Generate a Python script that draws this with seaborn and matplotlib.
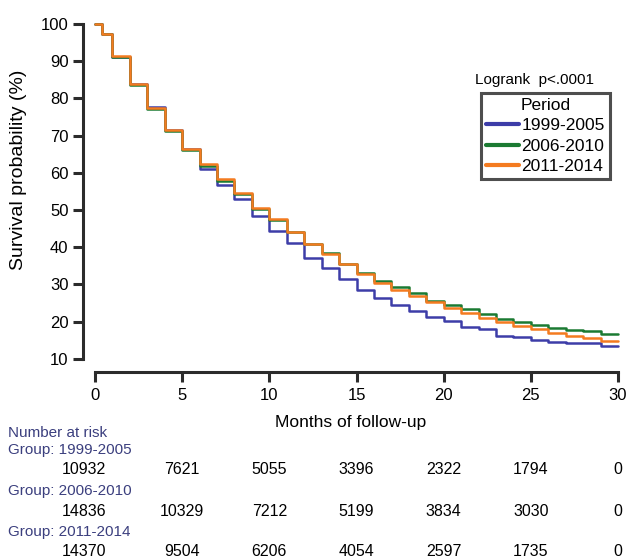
import pandas as pd
import seaborn as sns
import matplotlib.pyplot as plt
import matplotlib.transforms as mtransforms
from matplotlib.lines import Line2D

# survival curves (monthly steps)
meses = [0, 0.4] + list(range(1, 31))
surv_1999 = [100, 97.2, 91.2, 83.9, 77.8, 71.5, 66.3, 61.1, 56.6, 52.9, 48.4, 44.4, 41.2, 37.0, 34.3, 31.4,
             28.5, 26.4, 24.5, 22.8, 21.3, 20.2, 18.6, 17.9, 16.1, 15.8, 15.1, 14.6, 14.3, 14.2, 13.4, 13.4]
surv_2006 = [100, 97.2, 91.0, 83.6, 77.2, 71.3, 66.2, 61.8, 57.9, 54.3, 50.4, 47.3, 44.0, 40.8, 38.4, 35.4,
             33.0, 31.0, 29.2, 27.6, 25.6, 24.5, 23.3, 22.0, 20.6, 20.0, 19.1, 18.2, 17.7, 17.5, 16.7, 16.7]
surv_2011 = [100, 97.2, 91.3, 84.0, 77.4, 71.5, 66.4, 62.5, 58.3, 54.5, 50.6, 47.5, 44.2, 40.9, 38.3, 35.4,
             32.7, 30.5, 28.5, 26.9, 25.4, 23.6, 22.2, 20.9, 20.0, 18.8, 17.9, 17.0, 16.1, 15.5, 14.9, 14.9]

periodos = ['1999-2005', '2006-2010', '2011-2014']
cores = ['#3d3da8', '#1b7a32', '#f47b20']

# number at risk table
tempos_risco = [0, 5, 10, 15, 20, 25, 30]
risco_1999 = [10932, 7621, 5055, 3396, 2322, 1794, 0]
risco_2006 = [14836, 10329, 7212, 5199, 3834, 3030, 0]
risco_2011 = [14370, 9504, 6206, 4054, 2597, 1735, 0]

dados = pd.concat([
    pd.DataFrame({'Months': meses, 'Survival': s, 'Period': p})
    for s, p in zip([surv_1999, surv_2006, surv_2011], periodos)
], ignore_index=True)

sns.set_style('white')
plt.rcParams['font.family'] = ['Liberation Sans', 'DejaVu Sans']
plt.rcParams['text.color'] = 'black'
plt.rcParams['axes.labelcolor'] = 'black'
plt.rcParams['xtick.color'] = 'black'
plt.rcParams['ytick.color'] = 'black'

fig = plt.figure(figsize=(6.28, 5.6), dpi=100)
ax = fig.add_axes([83 / 628, 0.3357, (618 - 83) / 628, 0.6234])

sns.lineplot(data=dados, x='Months', y='Survival', hue='Period', palette=dict(zip(periodos, cores)),
             estimator=None, drawstyle='steps-post', linewidth=1.8, legend=False, ax=ax, clip_on=False)

ax.set_xlim(-0.69, 30)
ax.set_ylim(6.45, 100.3)
ax.set_xticks(tempos_risco)
ax.set_yticks(range(10, 101, 10))
ax.spines['top'].set_visible(False)
ax.spines['right'].set_visible(False)
ax.spines['left'].set_bounds(10, 100)
ax.spines['bottom'].set_bounds(0, 30)
for s in ['left', 'bottom']:
    ax.spines[s].set_linewidth(2.2)
    ax.spines[s].set_color('#2b2b2b')
ax.tick_params(axis='both', bottom=True, left=True, length=7.5, width=2.2, color='#2b2b2b',
               labelsize=12, direction='out')
ax.tick_params(axis='y', pad=3)
ax.tick_params(axis='x', pad=4)
ax.set_xlabel('Months of follow-up', fontsize=12.5, labelpad=9)
ax.set_ylabel('Survival probability (%)', fontsize=14)
ax.yaxis.set_label_coords(-0.105, 0.579)

# legenda
alcas = [Line2D([0], [0], color=c, linewidth=3) for c in cores]
leg = ax.legend(alcas, periodos, title='Period', loc='upper right', bbox_to_anchor=(0.985, 0.80),
                fontsize=12.5, title_fontsize=12.5, frameon=True, fancybox=False, handlelength=1.9,
                handletextpad=0.15, borderpad=0.3, labelspacing=0.3, borderaxespad=0.0)
leg.get_frame().set_edgecolor('#222222')
leg.get_frame().set_linewidth(2.2)
ax.text(0.955, 0.837, 'Logrank  p<.0001', transform=ax.transAxes, ha='right', va='center', fontsize=11)

# tabela de numero em risco
trans = mtransforms.blended_transform_factory(ax.transData, fig.transFigure)
cor_grupo = '#3b3f7e'
fig.text(8 / 628, 1 - 433 / 560, 'Number at risk', color=cor_grupo, fontsize=11, va='center')
linhas_y = [(450, 470), (491, 511), (532, 551)]
for (yg, yn), p, riscos in zip(linhas_y, periodos, [risco_1999, risco_2006, risco_2011]):
    fig.text(8 / 628, 1 - yg / 560, f'Group: {p}', color=cor_grupo, fontsize=11, va='center')
    for t, n in zip(tempos_risco, riscos):
        xt = t - 0.65 if t == 0 else t
        ax.text(xt, 1 - yn / 560, f'{n}', transform=trans, ha='center', va='center', fontsize=11.5)

fig.savefig('out.png', dpi=100)
